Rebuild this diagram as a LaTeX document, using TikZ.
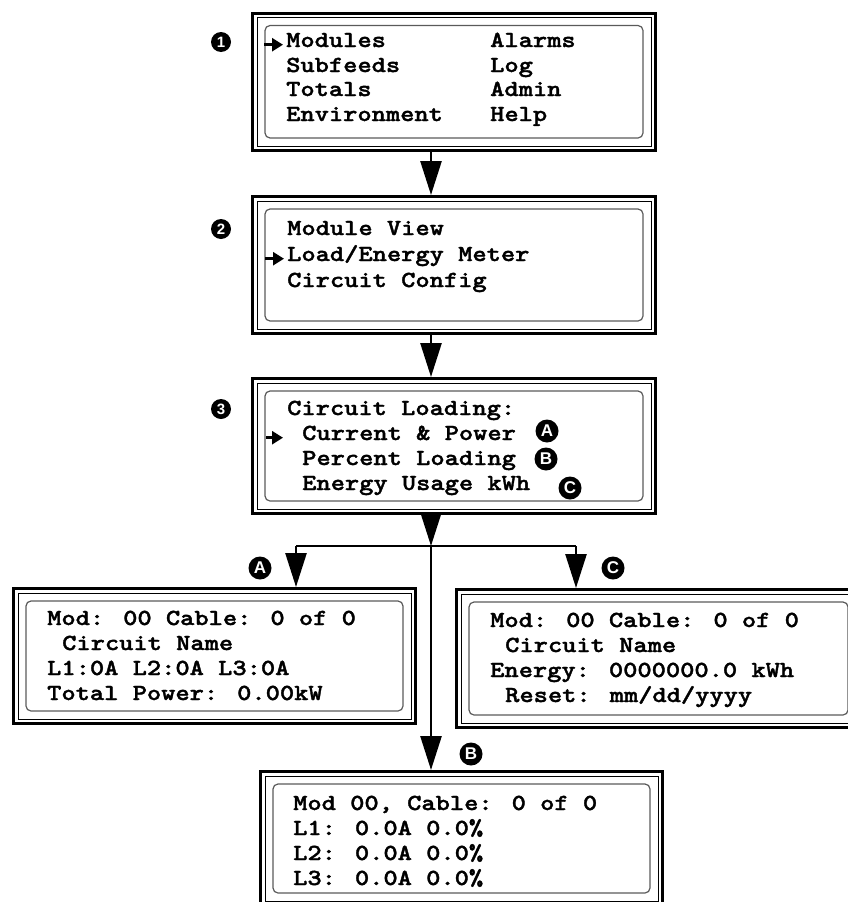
\documentclass[tikz,border=0pt]{standalone}
\usepackage{fontspec}
\setmainfont{Liberation Serif}
\setsansfont{Liberation Sans}
\newfontfamily\lcdfont{lmmonolt10-bold}[Extension=.otf,FakeStretch=1.18,FakeBold=1.6]
\usetikzlibrary{arrows.meta,positioning,calc,fit}
\definecolor{ink}{HTML}{000000}
\definecolor{screen}{HTML}{5A5A5A}
\tikzset{
  flow/.style={-{Triangle[length=34pt,width=21pt]},draw=ink,line width=2.6pt},
  branch/.style={draw=ink,line width=2.6pt},
  pointer/.style={-{Triangle[length=11pt,width=13pt]},draw=ink,line width=2.5pt},
  lcd/.style={draw=ink,line width=3pt,inner sep=0pt,path picture={
      \draw[ink,line width=1pt]
        ([shift={(4.5pt,-4.5pt)}]path picture bounding box.north west) rectangle
        ([shift={(-4.5pt,4.5pt)}]path picture bounding box.south east);
      \draw[screen,line width=1.2pt,rounded corners=5pt]
        ([shift={(12.5pt,-12.5pt)}]path picture bounding box.north west) rectangle
        ([shift={(-12.5pt,12.5pt)}]path picture bounding box.south east);}},
  lcdtext/.style={anchor=base west,inner sep=0pt,font=\lcdfont\fontsize{23}{25}\selectfont},
  stepbadge/.style={circle,fill=ink,text=white,inner sep=0pt,minimum size=20pt,
                    font=\sffamily\bfseries\fontsize{15}{15}\selectfont},
  tagbadge/.style={circle,fill=ink,text=white,inner sep=0pt,minimum size=23pt,
                   font=\sffamily\bfseries\fontsize{17}{17}\selectfont},
}
\begin{document}
\begin{tikzpicture}[x=1pt,y=-1pt]
  \useasboundingbox (0,0) rectangle (848,902);
  \clip (0,0) rectangle (848,902);
  % screens
  \node[lcd,fit={(252.5,13) (655.5,150.5)}] (menu) {};
  \node[lcd,fit={(252.5,196.5) (655.5,333.5)}] (submenu) {};
  \node[lcd,fit={(252.5,378.5) (655.5,513.5)}] (loading) {};
  \node[lcd,fit={(13.5,588.5) (415.5,723.5)}] (current) {};
  \node[lcd,fit={(456.5,589.5) (860.5,727.5)}] (energy) {};
  \node[lcd,fit={(260.5,771.5) (662.5,905.5)}] (percent) {};
  % main menu
  \node[lcdtext] (modules) at (286,47) {Modules};
  \node[lcdtext] (subfeeds) at (286,72) {Subfeeds};
  \node[lcdtext] (totals) at (286,96) {Totals};
  \node[lcdtext] (environment) at (286,121) {Environment};
  \node[lcdtext] (alarms) at (490,47) {Alarms};
  \node[lcdtext] (log) at (490,72) {Log};
  \node[lcdtext] (admin) at (490,96) {Admin};
  \node[lcdtext] (help) at (490,121) {Help};
  \draw[pointer] ([xshift=-22pt]modules.mid west) -- ([xshift=-3pt]modules.mid west);
  % modules menu
  \node[lcdtext] (moduleview) at (287,235) {Module View};
  \node[lcdtext] (meter) at (287,261) {Load/Energy Meter};
  \node[lcdtext] (config) at (287,287) {Circuit Config};
  \draw[pointer] ([xshift=-22pt]meter.mid west) -- ([xshift=-3pt]meter.mid west);
  % circuit loading menu
  \node[lcdtext] (loadtitle) at (287,415) {Circuit Loading:};
  \node[lcdtext] (itemA) at (302,440) {Current \& Power};
  \node[lcdtext] (itemB) at (302,465) {Percent Loading};
  \node[lcdtext] (itemC) at (302,490) {Energy Usage kWh};
  \draw[pointer] ([xshift=-36pt]itemA.mid west) -- ([xshift=-19pt]itemA.mid west);
  % current and power
  \node[lcdtext] (curmod) at (47,625) {Mod: 00 Cable: 0 of 0};
  \node[lcdtext] (curname) at (62,650) {Circuit Name};
  \node[lcdtext] (curlines) at (47,675) {L1:0A L2:0A L3:0A};
  \node[lcdtext] (curpower) at (47,700) {Total Power: 0.00kW};
  % energy usage
  \node[lcdtext] (enmod) at (490,627) {Mod: 00 Cable: 0 of 0};
  \node[lcdtext] (enname) at (505,652) {Circuit Name};
  \node[lcdtext] (enkwh) at (490,677) {Energy: 0000000.0 kWh};
  \node[lcdtext] (enreset) at (505,702) {Reset: mm/dd/yyyy};
  % percent loading
  \node[lcdtext] (pcmod) at (293,810) {Mod 00, Cable: 0 of 0};
  \node[lcdtext] (pcl1) at (293,835) {L1: 0.0A 0.0\%};
  \node[lcdtext] (pcl2) at (293,860) {L2: 0.0A 0.0\%};
  \node[lcdtext] (pcl3) at (293,885) {L3: 0.0A 0.0\%};
  % badges
  \node[stepbadge] (step1) at (221,42) {1};
  \node[stepbadge] (step2) at (221,229) {2};
  \node[stepbadge] (step3) at (221,409) {3};
  \node[tagbadge] (tagAin) at (547,431) {A};
  \node[tagbadge] (tagBin) at (546,459) {B};
  \node[tagbadge] (tagCin) at (570,488) {C};
  \node[tagbadge] (tagA) at (260,568) {A};
  \node[tagbadge] (tagC) at (613,568) {C};
  \node[tagbadge] (tagB) at (471,754) {B};
  % connectors
  \coordinate (spine) at (431,0);
  \coordinate (split) at (431,546);
  \coordinate (splitA) at (296,546);
  \coordinate (splitC) at (576,546);
  \draw[flow] (menu.south -| spine) -- (submenu.north -| spine);
  \draw[flow] (submenu.south -| spine) -- (loading.north -| spine);
  \draw[flow] (loading.south -| spine) -- (split);
  \draw[flow] (split) -- (percent.north -| split);
  \draw[branch] (splitA) -- (splitC);
  \draw[flow] (splitA) -- (current.north -| splitA);
  \draw[flow] (splitC) -- (energy.north -| splitC);
\end{tikzpicture}
\end{document}
